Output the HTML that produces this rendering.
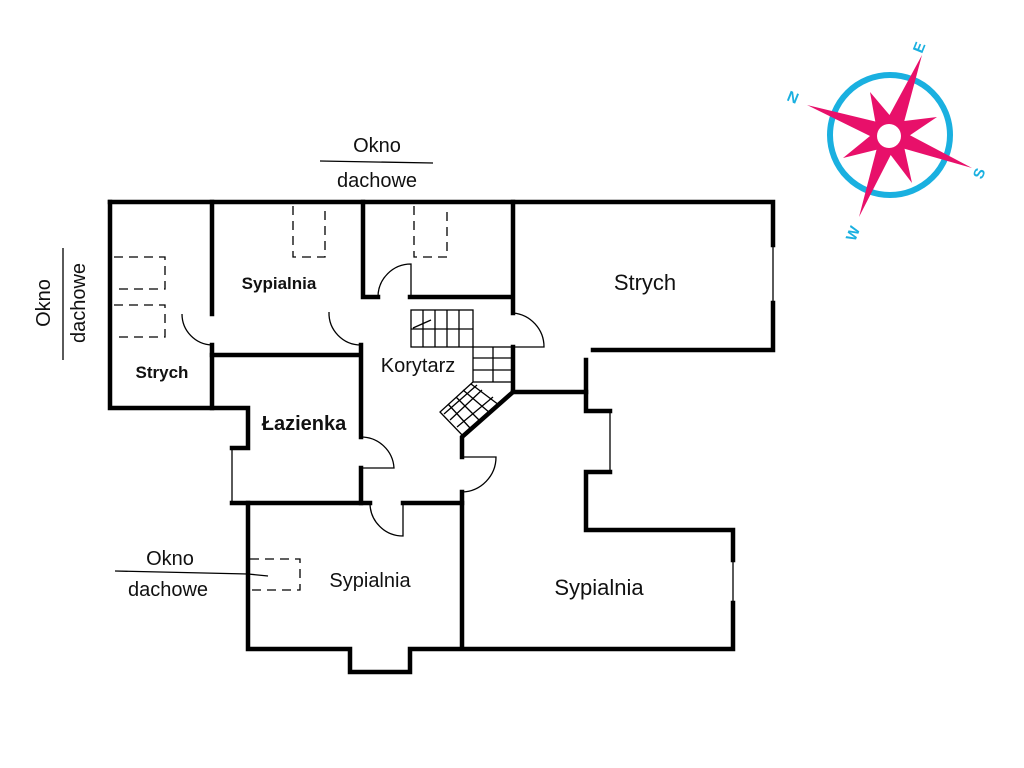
<!DOCTYPE html>
<html><head><meta charset="utf-8"><style>
html,body{margin:0;padding:0;background:#fff;}
svg{display:block;}
text{font-family:"Liberation Sans","DejaVu Sans",sans-serif;fill:#111;}
</style></head><body>
<svg width="1024" height="768" viewBox="0 0 1024 768" xmlns="http://www.w3.org/2000/svg">
<g stroke="#000" stroke-width="4.5" fill="none" stroke-linecap="square">
<path d="M110,202 H773 V245"/>
<path d="M773,303 V350 H593"/>
<path d="M110,202 V408 H248 V448 H232"/>
<path d="M212,202 V314 M212,345 V408"/>
<path d="M212,355 H360"/>
<path d="M363,202 V297 H378"/>
<path d="M361,345 V437 M361,468 V503"/>
<path d="M410,297 H512"/>
<path d="M513,202 V313 M513,347 V392 L462,437 V457 M462,492 V648"/>
<path d="M232,503 H370 M403,503 H462"/>
<path d="M248,503 V649 H350 V672 H410 V649 H733 V603"/>
<path d="M733,560 V530 H586 V472 H610"/>
<path d="M610,411 H586 V360"/>
<path d="M513,392 H586"/>
</g>
<g stroke="#000" stroke-width="1.3" fill="none">
<path d="M773,245 V303"/>
<path d="M733,560 V603"/>
<path d="M610,411 V472"/>
<path d="M232,448 V503"/>
<path d="M350,672 H410"/>
<path d="M182,314 A31,31 0 0 0 212,345"/>
<path d="M329,312 A32,32 0 0 0 361,345"/>
<path d="M378,297 A33,33 0 0 1 411,264 V297"/>
<path d="M513,313 A34,34 0 0 1 544,347 H513"/>
<path d="M361,437 A33,33 0 0 1 394,468 H361"/>
<path d="M462,457 H496 A35,35 0 0 1 462,492"/>
<path d="M370,503 A33,33 0 0 0 403,536 V503"/>
<rect x="411" y="310" width="62" height="37"/>
<path d="M423,310V347 M435,310V347 M447,310V347 M459,310V347 M411,329H473 M413,328 L431,320"/>
<rect x="473" y="347" width="40" height="35"/>
<path d="M493,347V382 M473,358H513 M473,370H513"/>
<path d="M473,382 L440,412 L464,437 L513,392"/>
<path d="M448,404 L470,428 M456,397 L480,421 M463,390 L490,413 M471,384 L499,405 M450,420 L482,390 M457,427 L493,397 M444,414 L477,385"/>
<line x1="320" y1="161" x2="433" y2="163"/>
<line x1="63" y1="248" x2="63" y2="360"/>
<line x1="115" y1="571" x2="248" y2="574"/>
<line x1="248" y1="574" x2="268" y2="576"/>
</g>
<g stroke="#000" stroke-width="1.3" fill="none" stroke-dasharray="9,6">
<path d="M293,206 V257 H325 V206"/>
<path d="M414,206 V257 H447 V206"/>
<path d="M114,257 H165 V289 H114"/>
<path d="M114,305 H165 V337 H114"/>
<path d="M250,559 H300 V590 H250"/>
</g>
<text x="377" y="152" font-size="20" text-anchor="middle">Okno</text>
<text x="377" y="187" font-size="20" text-anchor="middle">dachowe</text>
<text transform="translate(50,303) rotate(-90)" font-size="20" text-anchor="middle">Okno</text>
<text transform="translate(85,303) rotate(-90)" font-size="20" text-anchor="middle">dachowe</text>
<text x="170" y="565" font-size="20" text-anchor="middle">Okno</text>
<text x="168" y="596" font-size="20" text-anchor="middle">dachowe</text>
<text x="279" y="289" font-size="17" font-weight="bold" text-anchor="middle">Sypialnia</text>
<text x="162" y="378" font-size="17" font-weight="bold" text-anchor="middle">Strych</text>
<text x="304" y="430" font-size="20" font-weight="bold" text-anchor="middle">Łazienka</text>
<text x="418" y="372" font-size="20" text-anchor="middle">Korytarz</text>
<text x="645" y="290" font-size="22" text-anchor="middle">Strych</text>
<text x="370" y="587" font-size="20" text-anchor="middle">Sypialnia</text>
<text x="599" y="595" font-size="22" text-anchor="middle">Sypialnia</text>
<circle cx="890" cy="135" r="60" fill="none" stroke="#1ab0e0" stroke-width="6"/>
<polygon fill="#e8106a" points="922,55 904.3,121 937,117 910,135.2 972,168 904.5,148.8 912,183 890.7,155 859,217 876.5,149.7 843,158 870,136 807,105 875.3,121.5 870,92 889.5,115"/>
<circle cx="889" cy="136" r="12" fill="#fff"/>
<g font-size="15" font-weight="bold">
<text transform="translate(786,100) rotate(22)" style="fill:#1ab0e0">N</text>
<text transform="translate(922,54) rotate(-68)" style="fill:#1ab0e0">E</text>
<text transform="translate(982,180) rotate(-68)" style="fill:#1ab0e0">S</text>
<text transform="translate(855,242) rotate(-68)" style="fill:#1ab0e0">W</text>
</g>
</svg>
</body></html>
